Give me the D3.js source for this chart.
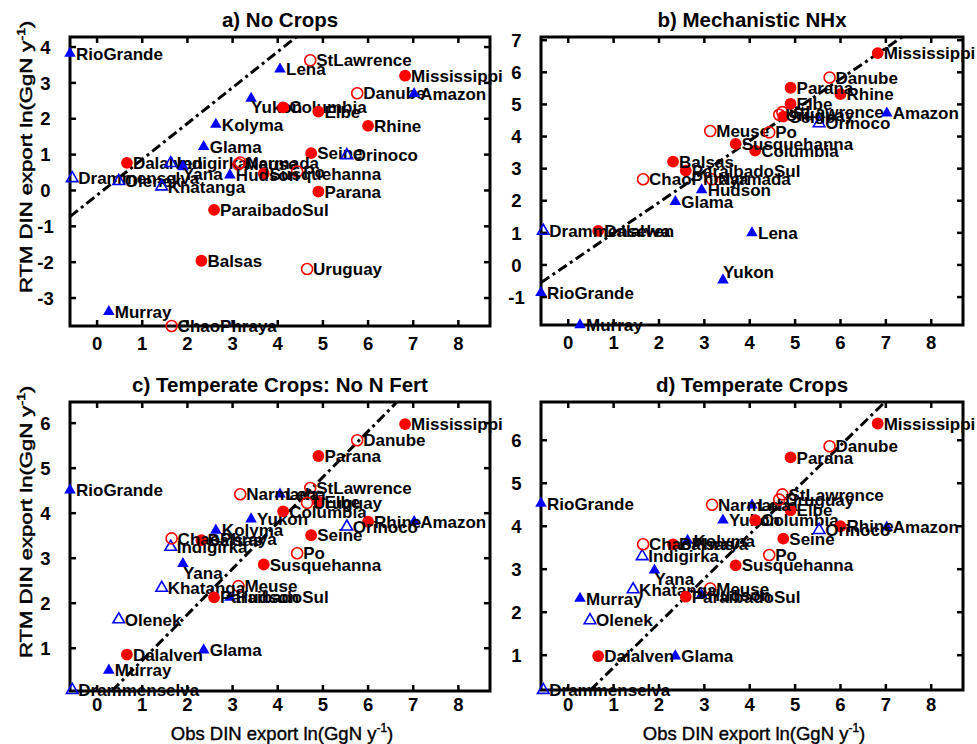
<!DOCTYPE html>
<html><head><meta charset="utf-8">
<script src="https://cdn.jsdelivr.net/npm/d3@7"></script>
<style>
body{margin:0;background:#fff}
svg{display:block}
text{font-family:"Liberation Sans",Arial,Helvetica,sans-serif}
</style>
</head><body><svg id="chart" width="977" height="744"></svg>
<script>
// ---------------- DATA ----------------
const rivers = ["RioGrande","StLawrence","Lena","Mississippi","Danube","Amazon","Yukon","Columbia","Elbe","Rhine",
  "Kolyma","Glama","Seine","Orinoco","Dalalven","Indigirka","Narmada","Meuse","Yana","Po",
  "Susquehanna","Hudson","Drammenselva","Olenek","Khatanga","Parana","ParaibadoSul","Balsas","Uruguay","Murray","ChaoPhraya"];
// group: fc = filled circle, oc = open circle, ft = filled triangle, ot = open triangle
const riverGroup = ["ft","oc","ft","fc","oc","ft","ft","fc","fc","fc",
  "ft","ft","fc","ot","fc","ot","oc","oc","ft","oc",
  "fc","ft","ot","ot","ot","fc","fc","fc","oc","ft","oc"];
const obsDIN = [-0.6,4.72,4.05,6.82,5.76,7.02,3.41,4.12,4.9,6.0,
  2.63,2.36,4.74,5.53,0.66,1.63,3.17,3.13,1.9,4.43,
  3.69,2.94,-0.55,0.48,1.43,4.9,2.59,2.31,4.65,0.26,1.65];
const rtmNoCrops = [3.82,3.63,3.38,3.2,2.71,2.7,2.57,2.32,2.2,1.8,
  1.84,1.22,1.04,0.98,0.77,0.76,0.78,0.73,0.66,0.53,
  0.47,0.43,0.34,0.26,0.11,-0.03,-0.54,-1.96,-2.19,-3.38,-3.78];
const rtmMechNHx = [-0.86,4.76,1.0,6.6,5.84,4.73,-0.47,3.56,5.02,5.32,
  null,1.97,4.62,4.41,1.06,null,2.67,4.17,null,4.13,
  3.77,2.34,1.06,null,null,5.52,2.94,3.22,4.68,-1.87,2.67];
const rtmTempNoFert = [4.51,4.56,4.42,5.98,5.62,3.81,3.87,4.04,4.25,3.81,
  3.62,0.96,3.51,3.7,0.86,3.25,4.42,2.38,2.88,3.11,
  2.86,2.13,0.07,1.64,2.34,5.27,2.13,3.4,4.23,0.51,3.44];
const rtmTempCrops = [4.53,4.74,4.49,6.39,5.86,3.98,4.14,4.14,4.37,4.0,
  3.67,0.98,3.71,3.91,0.98,3.3,4.5,2.55,2.98,3.33,
  3.09,2.41,0.19,1.81,2.53,5.6,2.36,3.58,4.62,2.32,3.58];

const panelTitles = ["a) No Crops","b) Mechanistic NHx","c) Temperate Crops: No N Fert","d) Temperate Crops"];
const xTicks = [0,1,2,3,4,5,6,7,8];
const yTicksA = [-3,-2,-1,0,1,2,3,4];
const yTicksB = [-1,0,1,2,3,4,5,6,7];
const yTicksC = [1,2,3,4,5,6];
const yTicksD = [1,2,3,4,5,6];
// reference (dash-dot) line end points per panel, in data units
const refLineX = [[-0.6,4.41],[-0.6,7.36],[0.33,6.64],[0.49,6.98]];
const refLineY = [[-0.73,4.28],[-0.55,7.1],[0.05,6.47],[0.19,6.89]];

const xLabelMain = "Obs DIN export ln(GgN y";
const yLabelMain = "RTM DIN export ln(GgN y";

// ---------------- LAYOUT ----------------
const panels = [
  {vals: rtmNoCrops,   yTicks: yTicksA, x0:70,  x1:490, y0:37,  y1:326, yDom:[-3.78,4.28], tickBase:24,  titleY:27,  yLabel:true,  xLabel:false},
  {vals: rtmMechNHx,   yTicks: yTicksB, x0:541, x1:963, y0:37,  y1:325, yDom:[-1.87,7.1],  tickBase:24,  titleY:27,  yLabel:false, xLabel:false},
  {vals: rtmTempNoFert,yTicks: yTicksC, x0:70,  x1:490, y0:402, y1:691, yDom:[0.05,6.47],  tickBase:19.5,titleY:392, yLabel:true,  xLabel:true},
  {vals: rtmTempCrops, yTicks: yTicksD, x0:541, x1:963, y0:402, y1:690, yDom:[0.19,6.89],  tickBase:21,  titleY:392, yLabel:false, xLabel:true}
];
// label nudges (px) for a few labels drawn off their marker
const nudges = {"0-Yukon":[-6,9],"1-Yukon":[-6,-8],"0-Yana":[-6,7],"2-Yana":[-6,9],"3-Yana":[-6,9]};

const svg = d3.select("#chart");
const RED = "#ff0000", BLUE = "#0000ff";
const tri = d3.symbol().type(d3.symbolTriangle).size(58);

panels.forEach((p, pi) => {
  const x = d3.scaleLinear().domain([-0.6, 8.7]).range([p.x0, p.x1]);
  const y = d3.scaleLinear().domain(p.yDom).range([p.y1, p.y0]);
  const g = svg.append("g");

  // title
  g.append("text").attr("x", (p.x0 + p.x1) / 2).attr("y", p.titleY)
    .attr("text-anchor", "middle").attr("font-size", 20.5).attr("font-weight", "bold")
    .text(panelTitles[pi]);

  // ticks (inward, on all four sides)
  const tl = 6;
  xTicks.forEach(t => {
    g.append("line").attr("x1", x(t)).attr("x2", x(t)).attr("y1", p.y1).attr("y2", p.y1 - tl)
      .attr("stroke", "#000").attr("stroke-width", 2.5);
    g.append("line").attr("x1", x(t)).attr("x2", x(t)).attr("y1", p.y0).attr("y2", p.y0 + tl)
      .attr("stroke", "#000").attr("stroke-width", 2.5);
    g.append("text").attr("x", x(t)).attr("y", p.y1 + p.tickBase)
      .attr("text-anchor", "middle").attr("font-size", 18.5).attr("font-weight", "bold").text(t);
  });
  p.yTicks.forEach(t => {
    g.append("line").attr("x1", p.x0).attr("x2", p.x0 + tl).attr("y1", y(t)).attr("y2", y(t))
      .attr("stroke", "#000").attr("stroke-width", 2.5);
    g.append("line").attr("x1", p.x1).attr("x2", p.x1 - tl).attr("y1", y(t)).attr("y2", y(t))
      .attr("stroke", "#000").attr("stroke-width", 2.5);
    g.append("text").attr("x", p.x0 - 24.5).attr("y", y(t)).attr("dy", "0.36em")
      .attr("text-anchor", "middle").attr("font-size", 18.5).attr("font-weight", "bold").text(t);
  });

  // frame
  g.append("rect").attr("x", p.x0).attr("y", p.y0).attr("width", p.x1 - p.x0).attr("height", p.y1 - p.y0)
    .attr("fill", "none").attr("stroke", "#000").attr("stroke-width", 3);

  // reference dash-dot line
  g.append("line")
    .attr("x1", x(refLineX[pi][0])).attr("y1", y(refLineY[pi][0]))
    .attr("x2", x(refLineX[pi][1])).attr("y2", y(refLineY[pi][1]))
    .attr("stroke", "#000").attr("stroke-width", 3).attr("stroke-dasharray", "10,4,3,4");

  // points + labels
  rivers.forEach((r, i) => {
    const v = p.vals[i];
    if (v === null || v === undefined) return;
    const px = x(obsDIN[i]), py = y(v);
    const grp = riverGroup[i];
    if (grp === "fc") {
      g.append("circle").attr("cx", px).attr("cy", py).attr("r", 5.9).attr("fill", RED);
    } else if (grp === "oc") {
      g.append("circle").attr("cx", px).attr("cy", py).attr("r", 5.5)
        .attr("fill", "none").attr("stroke", RED).attr("stroke-width", 1.6);
    } else if (grp === "ft") {
      g.append("path").attr("d", tri).attr("transform", `translate(${px},${py})`).attr("fill", BLUE);
    } else {
      g.append("path").attr("d", tri).attr("transform", `translate(${px},${py})`)
        .attr("fill", "none").attr("stroke", BLUE).attr("stroke-width", 1.6);
    }
    const nd = nudges[pi + "-" + r] || [0, 0];
    g.append("text").attr("x", px + 6 + nd[0]).attr("y", py + nd[1]).attr("dy", "0.36em")
      .attr("font-size", 17).attr("font-weight", "bold").text(r);
  });

  // axis labels (slightly heavier regular text)
  if (p.xLabel) {
    const t = g.append("text").attr("x", (p.x0 + p.x1) / 2 + 2).attr("y", 740)
      .attr("text-anchor", "middle").attr("font-size", 18.5)
      .attr("stroke", "#000").attr("stroke-width", 0.4);
    t.append("tspan").text(xLabelMain);
    t.append("tspan").attr("font-size", 12).attr("dy", -8).text("-1");
    t.append("tspan").attr("dy", 8).text(")");
  }
  if (p.yLabel) {
    const gy = g.append("g").attr("transform", `translate(32,${p.y1 - 33}) rotate(-90) scale(1.3,1)`);
    const t = gy.append("text").attr("x", 0).attr("y", 0).attr("font-size", 17)
      .attr("stroke", "#000").attr("stroke-width", 0.5);
    t.append("tspan").text(yLabelMain);
    t.append("tspan").attr("font-size", 11).attr("dy", -7).text("-1");
    t.append("tspan").attr("dy", 7).text(")");
  }
});
</script>
</body></html>
